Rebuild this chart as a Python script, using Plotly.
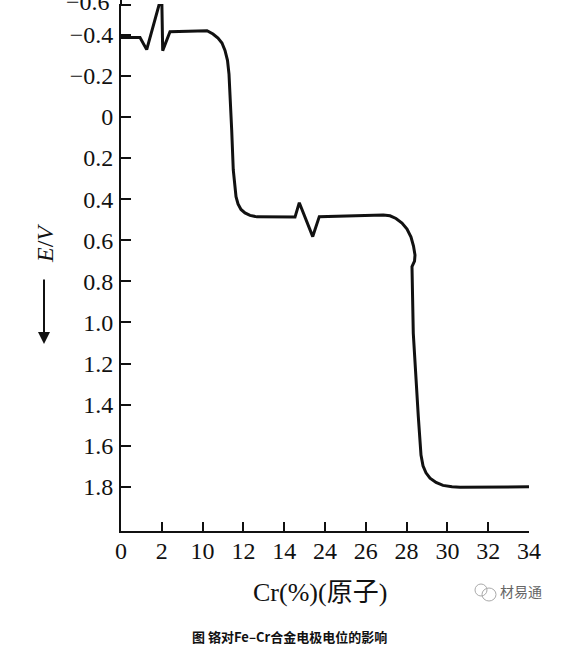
import plotly.graph_objects as go

# x positions are in tick-slot units (the axis is non-linear: one slot per labelled Cr value)
cr_tick_labels = ["0", "2", "10", "12", "14", "24", "26", "28", "30", "32", "34"]
cr_tick_slots = list(range(len(cr_tick_labels)))

e_tick_vals = [-0.4, -0.2, 0, 0.2, 0.4, 0.6, 0.8, 1.0, 1.2, 1.4, 1.6, 1.8]
e_tick_text = ["−0.4", "−0.2", "0", "0.2", "0.4", "0.6", "0.8", "1.0", "1.2", "1.4", "1.6", "1.8"]

slot = [0.0, 0.466, 0.630, 0.998, 1.022, 1.201, 2.108, 2.255, 2.377, 2.475, 2.549, 2.610,
        2.647, 2.684, 2.713, 2.752, 2.819, 2.868, 2.941, 3.039, 3.162, 3.333, 4.265,
        4.370, 4.699, 4.860, 6.429, 6.593, 6.740, 6.887, 7.010, 7.108, 7.169, 7.206,
        7.194, 7.132, 7.164, 7.287, 7.353, 7.402, 7.475, 7.574, 7.721, 7.892, 8.113,
        8.309, 10.0]
e_volt = [-0.387, -0.387, -0.328, -0.593, -0.323, -0.415, -0.420, -0.404, -0.384, -0.360,
          -0.324, -0.276, -0.209, -0.085, 0.063, 0.258, 0.388, 0.423, 0.450, 0.467, 0.479,
          0.486, 0.487, 0.417, 0.582, 0.485, 0.477, 0.481, 0.494, 0.516, 0.545, 0.584,
          0.628, 0.672, 0.701, 0.728, 1.053, 1.458, 1.645, 1.698, 1.732, 1.758, 1.779,
          1.793, 1.800, 1.802, 1.800]

W, H = 582, 652
L, R, T, B = 121, 53, 4, 121
pw, ph = W - L - R, H - T - B


def px(xp):
    return (xp - L) / pw


def py(yp):
    return (H - B - yp) / ph


serif = "Liberation Serif"

fig = go.Figure()
fig.add_trace(go.Scatter(x=slot, y=e_volt, mode="lines",
                         line=dict(color="#111111", width=3), showlegend=False))

fig.update_layout(
    width=W, height=H,
    margin=dict(l=L, r=R, t=T, b=B, autoexpand=False),
    paper_bgcolor="white", plot_bgcolor="white",
    font=dict(family=serif, size=24, color="#111111"),
    xaxis=dict(range=[0, 10], tickvals=cr_tick_slots, ticktext=cr_tick_labels,
               showgrid=False, zeroline=False, showline=True, linecolor="#111111",
               linewidth=2, ticks="inside", ticklen=9, tickwidth=2, tickcolor="#111111",
               ticklabelstandoff=-3, automargin=False, tickfont=dict(family=serif, size=24)),
    yaxis=dict(range=[2.015, -0.55], tickvals=e_tick_vals, ticktext=e_tick_text,
               showgrid=False, zeroline=False, showline=True, linecolor="#111111",
               linewidth=2, ticks="inside", ticklen=10, tickwidth=2, tickcolor="#111111",
               ticklabelstandoff=1, automargin=False, tickfont=dict(family=serif, size=24)),
)

annotations = [
    dict(text="−0.6", xref="paper", yref="paper", x=px(112), y=py(2), xanchor="right",
         yanchor="middle", showarrow=False, font=dict(family=serif, size=24, color="#111111")),
    dict(text="Cr(%)(原子)", xref="paper", yref="paper", x=px(320), y=py(592),
         xanchor="center", yanchor="middle", showarrow=False,
         font=dict(family="Liberation Serif, Noto Sans CJK SC", size=26, color="#111111")),
    dict(text="<i>E</i>/<i>V</i>", xref="paper", yref="paper", x=px(45), y=py(244),
         xanchor="center", yanchor="middle", textangle=-90, showarrow=False,
         font=dict(family=serif, size=24, color="#111111")),
    dict(text="", xref="paper", yref="paper", x=px(44), y=py(344), ax=0, ay=-66,
         showarrow=True, arrowhead=2, arrowsize=1.2, arrowwidth=2, arrowcolor="#111111"),
    dict(text="<b>图 铬对Fe–Cr合金电极电位的影响</b>", xref="paper", yref="paper",
         x=px(289), y=py(636), xanchor="center", yanchor="middle", showarrow=False,
         font=dict(family="Noto Sans CJK SC", size=13, color="#111111")),
    dict(text="材易通", xref="paper", yref="paper", x=px(521), y=py(591),
         xanchor="center", yanchor="middle", showarrow=False,
         font=dict(family="Noto Sans CJK SC", size=14, color="#666666")),
]
fig.update_layout(annotations=annotations)

fig.add_shape(type="line", xref="paper", yref="paper", x0=px(121), x1=px(131),
              y0=py(5), y1=py(5), line=dict(color="#111111", width=2))
fig.add_shape(type="line", xref="paper", yref="paper", x0=px(121), x1=px(121),
              y0=py(4), y1=py(0), line=dict(color="#111111", width=2))
# small watermark logo
fig.add_shape(type="circle", xref="paper", yref="paper", x0=px(475), x1=px(487),
              y0=py(596), y1=py(584), line=dict(color="#aaaaaa", width=1))
fig.add_shape(type="circle", xref="paper", yref="paper", x0=px(482), x1=px(496),
              y0=py(601), y1=py(588), line=dict(color="#aaaaaa", width=1))

fig.write_html("out.html", config={"displayModeBar": False},
               post_script="document.body.style.margin='0';document.body.style.overflow='hidden';")
